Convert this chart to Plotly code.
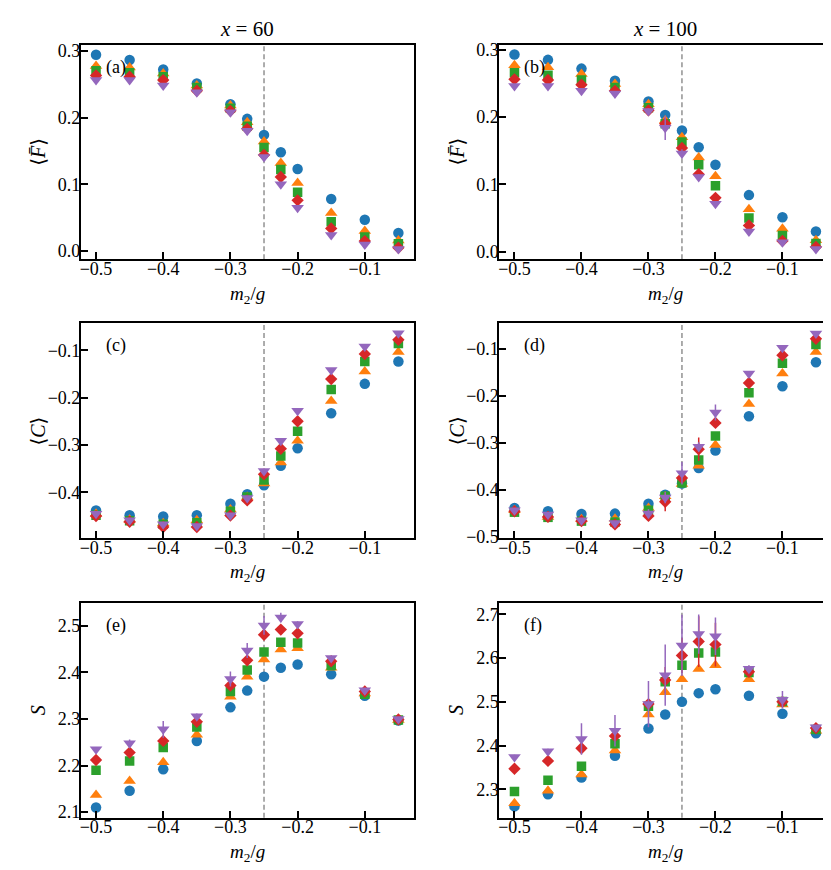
import plotly.graph_objects as go
from plotly.subplots import make_subplots

# ---------------- data ----------------
m2 = [-0.5, -0.45, -0.4, -0.35, -0.3, -0.275, -0.25, -0.225, -0.2, -0.15, -0.1, -0.05]

# (a) <F>, x = 60
f60_s1 = [0.294, 0.286, 0.272, 0.251, 0.220, 0.198, 0.174, 0.148, 0.123, 0.078, 0.047, 0.027]
f60_s2 = [0.277, 0.275, 0.266, 0.248, 0.218, 0.193, 0.164, 0.132, 0.102, 0.057, 0.030, 0.016]
f60_s3 = [0.270, 0.267, 0.261, 0.245, 0.214, 0.187, 0.155, 0.122, 0.088, 0.044, 0.021, 0.011]
f60_s4 = [0.263, 0.261, 0.256, 0.240, 0.210, 0.183, 0.144, 0.111, 0.076, 0.034, 0.015, 0.005]
f60_s5 = [0.256, 0.256, 0.248, 0.238, 0.208, 0.180, 0.141, 0.100, 0.065, 0.024, 0.010, 0.003]

# (b) <F>, x = 100
f100_s1 = [0.293, 0.285, 0.272, 0.254, 0.223, 0.203, 0.180, 0.155, 0.129, 0.084, 0.051, 0.030]
f100_s2 = [0.277, 0.274, 0.264, 0.249, 0.219, 0.195, 0.170, 0.140, 0.112, 0.063, 0.034, 0.017]
f100_s3 = [0.266, 0.262, 0.255, 0.244, 0.214, 0.190, 0.163, 0.129, 0.098, 0.050, 0.024, 0.012]
f100_s4 = [0.256, 0.255, 0.248, 0.239, 0.210, 0.190, 0.154, 0.115, 0.080, 0.039, 0.016, 0.007]
f100_s5 = [0.246, 0.246, 0.239, 0.235, 0.209, 0.184, 0.146, 0.111, 0.071, 0.030, 0.014, 0.004]
f100_s5_err = [0, 0, 0, 0, 0.004, 0.018, 0.006, 0.004, 0.004, 0, 0, 0]

# (c) <C>, x = 60
c60_s1 = [-0.438, -0.448, -0.451, -0.448, -0.424, -0.404, -0.385, -0.344, -0.307, -0.233, -0.171, -0.124]
c60_s2 = [-0.445, -0.458, -0.465, -0.459, -0.436, -0.410, -0.381, -0.337, -0.291, -0.207, -0.145, -0.104]
c60_s3 = [-0.448, -0.460, -0.467, -0.464, -0.440, -0.410, -0.374, -0.323, -0.271, -0.183, -0.124, -0.086]
c60_s4 = [-0.450, -0.462, -0.473, -0.473, -0.449, -0.417, -0.362, -0.308, -0.250, -0.161, -0.108, -0.078]
c60_s5 = [-0.445, -0.459, -0.467, -0.471, -0.448, -0.412, -0.355, -0.291, -0.228, -0.142, -0.092, -0.064]

# (d) <C>, x = 100
c100_s1 = [-0.438, -0.445, -0.451, -0.450, -0.429, -0.410, -0.386, -0.353, -0.316, -0.243, -0.179, -0.128]
c100_s2 = [-0.443, -0.457, -0.462, -0.461, -0.438, -0.413, -0.387, -0.348, -0.304, -0.217, -0.152, -0.106]
c100_s3 = [-0.447, -0.458, -0.466, -0.468, -0.443, -0.413, -0.385, -0.336, -0.285, -0.193, -0.130, -0.090]
c100_s4 = [-0.445, -0.457, -0.466, -0.473, -0.455, -0.425, -0.374, -0.313, -0.257, -0.172, -0.113, -0.078]
c100_s5 = [-0.443, -0.452, -0.464, -0.470, -0.450, -0.416, -0.364, -0.308, -0.235, -0.152, -0.097, -0.067]
c100_s4_err = [0, 0, 0, 0, 0.005, 0.020, 0.010, 0.025, 0.008, 0, 0, 0]
c100_s5_err = [0, 0, 0, 0, 0.010, 0.012, 0.024, 0.010, 0.017, 0.005, 0.003, 0.002]

# (e) S, x = 60
s60_s1 = [2.110, 2.146, 2.192, 2.253, 2.325, 2.361, 2.391, 2.410, 2.417, 2.396, 2.350, 2.297]
s60_s2 = [2.137, 2.167, 2.207, 2.266, 2.348, 2.391, 2.428, 2.449, 2.452, 2.410, 2.355, 2.298]
s60_s3 = [2.190, 2.210, 2.239, 2.283, 2.359, 2.405, 2.444, 2.465, 2.463, 2.415, 2.353, 2.298]
s60_s4 = [2.212, 2.228, 2.253, 2.294, 2.372, 2.426, 2.481, 2.492, 2.484, 2.424, 2.359, 2.299]
s60_s5 = [2.235, 2.248, 2.278, 2.306, 2.386, 2.447, 2.501, 2.518, 2.504, 2.431, 2.362, 2.300]
s60_s5_err = [0.004, 0.008, 0.018, 0.006, 0.016, 0.016, 0.020, 0.010, 0.006, 0.004, 0.003, 0.002]

# (f) S, x = 100
s100_s1 = [2.261, 2.289, 2.327, 2.377, 2.439, 2.471, 2.500, 2.520, 2.529, 2.514, 2.473, 2.428]
s100_s2 = [2.268, 2.297, 2.334, 2.389, 2.471, 2.522, 2.552, 2.575, 2.584, 2.552, 2.494, 2.434]
s100_s3 = [2.295, 2.321, 2.353, 2.404, 2.490, 2.546, 2.584, 2.612, 2.614, 2.567, 2.501, 2.437]
s100_s4 = [2.347, 2.365, 2.394, 2.422, 2.495, 2.550, 2.606, 2.638, 2.631, 2.569, 2.500, 2.440]
s100_s5 = [2.374, 2.387, 2.415, 2.434, 2.495, 2.561, 2.629, 2.655, 2.650, 2.576, 2.505, 2.442]
s100_s4_err = [0, 0, 0.005, 0.005, 0.010, 0.030, 0.040, 0.058, 0.050, 0.005, 0.005, 0]
s100_s5_err = [0.005, 0.006, 0.036, 0.036, 0.053, 0.070, 0.070, 0.045, 0.043, 0.008, 0.020, 0.004]

x_ticks = [-0.5, -0.4, -0.3, -0.2, -0.1]
f_ticks = [0.0, 0.1, 0.2, 0.3]
c60_ticks = [-0.4, -0.3, -0.2, -0.1]
c100_ticks = [-0.5, -0.4, -0.3, -0.2, -0.1]
s60_ticks = [2.1, 2.2, 2.3, 2.4, 2.5]
s100_ticks = [2.3, 2.4, 2.5, 2.6, 2.7]
critical_m2 = -0.25

col_titles = ["<i>x</i> = 60", "<i>x</i> = 100"]
panel_letters = ["(a)", "(b)", "(c)", "(d)", "(e)", "(f)"]
row_ylabels = ["⟨<i>F̄</i>⟩", "⟨<i>C</i>⟩", "<i>S</i>"]
xlabel = "<i>m</i><sub>2</sub>/<i>g</i>"

# ---------------- styling ----------------
colors = ['#1f77b4', '#ff7f0e', '#2ca02c', '#d62728', '#9467bd']
symbols = ['circle', 'triangle-up', 'square', 'diamond', 'triangle-down']
sizes = [10.5, 11, 9.5, 9.5, 11]
FONT = "Liberation Serif, DejaVu Serif, serif"

W, H = 831, 870
col_px = [(72, 405), (491, 823)]
row_px = [(33, 251), (316, 534), (600, 818)]

panels = [
    (1, 1, [f60_s1, f60_s2, f60_s3, f60_s4, f60_s5], [None] * 5, [-0.0122, 0.3093], f_ticks),
    (1, 2, [f100_s1, f100_s2, f100_s3, f100_s4, f100_s5], [None, None, None, None, f100_s5_err], [-0.0113, 0.3078], f_ticks),
    (2, 1, [c60_s1, c60_s2, c60_s3, c60_s4, c60_s5], [None] * 5, [-0.4963, -0.0432], c60_ticks),
    (2, 2, [c100_s1, c100_s2, c100_s3, c100_s4, c100_s5], [None, None, None, c100_s4_err, c100_s5_err], [-0.502, -0.045], c100_ticks),
    (3, 1, [s60_s1, s60_s2, s60_s3, s60_s4, s60_s5], [None, None, None, None, s60_s5_err], [2.088, 2.549], s60_ticks),
    (3, 2, [s100_s1, s100_s2, s100_s3, s100_s4, s100_s5], [None, None, None, s100_s4_err, s100_s5_err], [2.235, 2.726], s100_ticks),
]

fig = make_subplots(rows=3, cols=2)
shapes = []
annotations = []

for idx, (r, c, series, errs, yr, yt) in enumerate(panels):
    n = idx + 1
    for k in range(5):
        err = errs[k]
        tr = go.Scatter(
            x=m2, y=series[k], mode='markers',
            marker=dict(symbol=symbols[k], size=sizes[k], color=colors[k], line=dict(width=0)),
            showlegend=False,
        )
        if err is not None:
            tr.error_y = dict(type='data', array=err, visible=True, color=colors[k], thickness=1.5, width=0)
        fig.add_trace(tr, row=r, col=c)

    xd = [col_px[c - 1][0] / W, col_px[c - 1][1] / W]
    yd = [1 - row_px[r - 1][1] / H, 1 - row_px[r - 1][0] / H]
    axis_common = dict(showline=True, linecolor='black', linewidth=2, mirror=True,
                       ticks='inside', ticklen=7, tickwidth=2, tickcolor='black',
                       showgrid=False, zeroline=False,
                       tickfont=dict(family=FONT, size=18, color='black'))
    fig.update_xaxes(domain=xd, range=[-0.5225, -0.0275], tickvals=x_ticks, tickformat=".1f",
                     ticklabelstandoff=-8, **axis_common, row=r, col=c)
    fig.update_yaxes(domain=yd, range=yr, tickvals=yt, tickformat=".1f",
                     ticklabelstandoff=-5, **axis_common, row=r, col=c)

    xref = 'x' if n == 1 else f'x{n}'
    yref = 'y' if n == 1 else f'y{n}'
    shapes.append(dict(type='line', xref=xref, yref=f'{yref} domain', x0=critical_m2, x1=critical_m2,
                       y0=0, y1=1, line=dict(color='#808080', width=1.3, dash='5px,3px'), layer='below'))
    annotations.append(dict(xref=f'{xref} domain', yref=f'{yref} domain', x=0.068, y=0.895,
                            text=panel_letters[idx], showarrow=False, xanchor='left', yanchor='middle',
                            font=dict(family=FONT, size=18, color='black')))
    annotations.append(dict(xref=f'{xref} domain', yref=f'{yref} domain', x=0.5, y=-0.165,
                            text=xlabel, showarrow=False, xanchor='center', yanchor='middle',
                            font=dict(family=FONT, size=19, color='black')))
    annotations.append(dict(xref=f'{xref} domain', yref=f'{yref} domain', x=-43 / 333, y=0.5,
                            text=row_ylabels[r - 1], showarrow=False, xanchor='center', yanchor='middle',
                            textangle=-90, font=dict(family=FONT, size=20, color='black')))

for c in range(2):
    cx = (col_px[c][0] + col_px[c][1]) / 2 / W
    annotations.append(dict(xref='paper', yref='paper', x=cx, y=1 - 17 / H, text=col_titles[c],
                            showarrow=False, xanchor='center', yanchor='middle',
                            font=dict(family=FONT, size=21, color='black')))

fig.update_layout(width=W, height=H, margin=dict(l=0, r=0, t=0, b=0, pad=0),
                  plot_bgcolor='white', paper_bgcolor='white', showlegend=False,
                  shapes=shapes, annotations=annotations,
                  font=dict(family=FONT, color='black'))

fig.write_html("out.html")
